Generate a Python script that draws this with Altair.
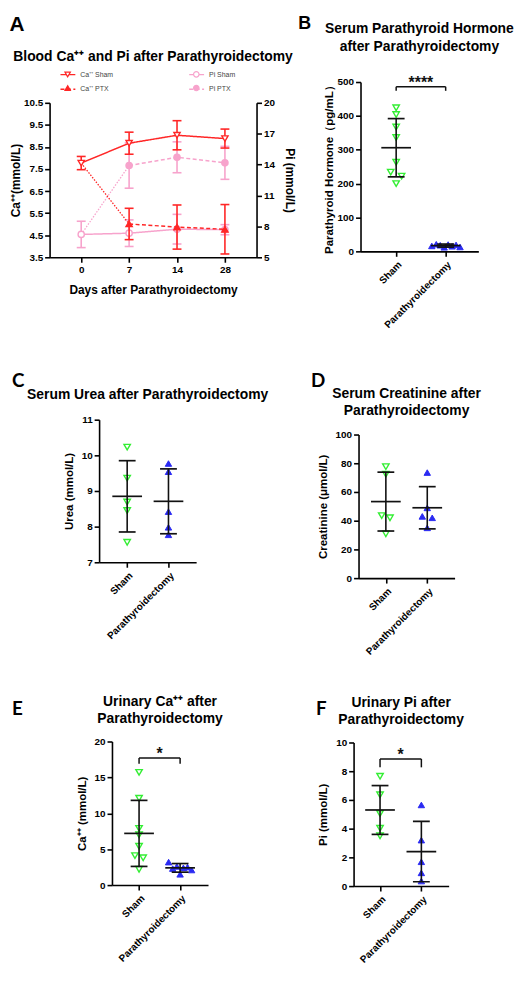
import altair as alt
import pandas as pd

FONT = "Liberation Sans"
RED = "#FF2626"
PINK = "#F7A3CC"
GREEN = "#33EE33"
BLUE = "#2A2AF2"
BLACK = "#111111"

# ---------------- Panel A data (mean, SD) ----------------
days = ["0", "7", "14", "28"]
series_names = ["Ca⁺⁺ Sham", "Ca⁺⁺ PTX", "Pi  Sham", "Pi  PTX"]
ca_sham_mean = [7.77, 8.67, 9.03, 8.88]
ca_sham_sd = [0.30, 0.50, 0.66, 0.43]
ca_ptx_days = ["7", "14", "28"]
ca_ptx_mean = [5.01, 4.87, 4.77]
ca_ptx_sd = [0.71, 1.00, 1.12]
pi_sham_mean = [7.22, 7.34, 7.73, 7.68]
pi_sham_sd = [1.28, 1.29, 1.44, 0.49]
pi_ptx_days = ["7", "14", "28"]
pi_ptx_mean = [13.91, 14.71, 14.17]
pi_ptx_sd = [2.20, 1.50, 1.60]

# ---------------- Panels B-F data ----------------
groups = ["Sham", "Parathyroidectomy"]

pth_sham = [424, 404, 367, 336, 263, 234, 222, 200]
pth_sham_jit = [0, 0, 0, 0, 0, -0.11, 0.11, 0]
pth_ptx = [16, 21, 18, 12, 20, 15, 19, 13]
pth_ptx_jit = [-0.28, -0.19, -0.11, -0.03, 0.05, 0.13, 0.21, 0.29]
pth_mean = [306, 17]
pth_sd = [86, 4.5]

urea_sham = [10.23, 9.36, 8.69, 8.45, 7.56]
urea_sham_jit = [0, 0, 0, 0, 0]
urea_ptx = [9.77, 9.54, 8.42, 7.98, 7.77]
urea_ptx_jit = [0, 0, 0, 0, 0]
urea_mean = [8.85, 8.71]
urea_sd = [1.00, 0.91]

crea_sham = [77.6, 72.4, 43.5, 42.0, 30.9]
crea_sham_jit = [0, 0, -0.1, 0.1, 0]
crea_ptx = [73.5, 48.9, 43.0, 42.0, 35.0]
crea_ptx_jit = [0, 0, -0.12, 0.12, 0]
crea_mean = [53.3, 49.0]
crea_sd = [20.5, 14.7]

uca_sham = [15.7, 12.1, 7.9, 7.0, 5.4, 4.1, 3.8, 2.2]
uca_sham_jit = [0, 0, 0, 0, 0, -0.1, 0.1, 0]
uca_ptx = [3.2, 2.3, 2.6, 1.5, 2.4, 2.5, 2.1]
uca_ptx_jit = [-0.28, -0.18, -0.08, 0, 0.08, 0.18, 0.28]
uca_mean = [7.2, 2.4]
uca_sd = [4.6, 0.6]

upi_sham = [7.65, 6.36, 5.05, 4.03, 3.5]
upi_sham_jit = [0, 0, 0, 0, 0]
upi_ptx = [5.65, 3.2, 1.69, 0.92, 0.35]
upi_ptx_jit = [0, 0, 0, 0, 0]
upi_mean = [5.3, 2.4]
upi_sd = [1.7, 2.1]

DUMMY = pd.DataFrame({"d": [0]})


def axis(**kw):
    base = dict(grid=False, domainColor="black", domainWidth=1.6, tickColor="black",
                tickWidth=1.6, tickSize=5, labelFont=FONT, labelFontSize=10,
                labelFontWeight="bold", labelColor="black", labelPadding=2,
                titleFont=FONT, titleFontSize=12, titleFontWeight="bold",
                titleColor="black")
    base.update(kw)
    return alt.Axis(**base)


def panel_title(lines, offset, lh=17):
    return alt.TitleParams(lines, font=FONT, fontSize=14, fontWeight="bold", color="black",
                           anchor="middle", frame="group", offset=offset, lineHeight=lh)


def letter(txt, dy, offset, size=19, font=FONT):
    return alt.TitleParams(txt, font=font, fontSize=size, fontWeight="bold", color="black",
                           anchor="start", frame="bounds", dx=0, dy=dy, offset=offset)


def frame(left, right):
    # invisible layout guide: fixes how far a panel reaches left / right of its plot area
    return alt.Chart(DUMMY).mark_rect(opacity=0).encode(
        x=alt.value(-left), x2=alt.value(right), y=alt.value(0), y2=alt.value(1))


def spacer(w, h):
    return alt.Chart(DUMMY).mark_rect(opacity=0).encode(
        x=alt.value(0), x2=alt.value(w), y=alt.value(0), y2=alt.value(h)
    ).properties(width=w, height=h)


# ---------------- Panel A ----------------
xA = alt.X("day:O", scale=alt.Scale(type="point", domain=days, padding=0.66),
           axis=axis(title="Days after Parathyroidectomy", labelAngle=0, titlePadding=11,
                     labelPadding=2))

# two overlaid legends: one draws the line samples (with labels), the other the markers
pt_names = [n + " " for n in series_names]
LEG_X, LEG_Y, COLPAD = 10, -37.2, 73
line_leg = alt.Legend(title=None, orient="none", direction="vertical", legendX=LEG_X,
                      legendY=LEG_Y, columns=2, columnPadding=COLPAD, rowPadding=3,
                      symbolSize=225, symbolStrokeWidth=1.4, labelFontSize=7, labelFont=FONT,
                      labelColor="#444444", labelOffset=4, padding=0)
pt_leg = alt.Legend(title=None, orient="none", direction="vertical", legendX=LEG_X,
                    legendY=LEG_Y + 4.76, columns=2, columnPadding=COLPAD + 2.9, rowPadding=3,
                    symbolSize=30, symbolStrokeWidth=1.2, symbolOffset=4.76, labelFontSize=7,
                    labelFont=FONT, labelColor="#444444", labelOpacity=0, labelOffset=8.74,
                    padding=0)

color_enc = alt.Color("series:N", scale=alt.Scale(domain=series_names,
                                                  range=[RED, RED, PINK, PINK]), legend=line_leg)
dash_enc = alt.StrokeDash("series:N", scale=alt.Scale(domain=series_names,
                                                      range=[[1, 0], [4, 2.5], [1, 0], [4, 2.5]]),
                          legend=line_leg)
shape_enc = alt.Shape("pseries:N", scale=alt.Scale(domain=pt_names,
                                                   range=["triangle-down", "triangle-up", "circle", "circle"]),
                      legend=pt_leg)
stroke_enc = alt.Stroke("pseries:N", scale=alt.Scale(domain=pt_names,
                                                     range=[RED, RED, PINK, PINK]), legend=pt_leg)
fill_enc = alt.Fill("pseries:N", scale=alt.Scale(domain=pt_names,
                                                 range=["white", RED, "white", PINK]), legend=pt_leg)


def rows(name, ds, means, sds):
    return [dict(series=name, day=d, mean=m, lo=m - s, hi=m + s) for d, m, s in zip(ds, means, sds)]


def a_group(sham_name, ptx_name, s_days, s_mean, s_sd, p_days, p_mean, p_sd, color, yscale, yaxis):
    df = pd.DataFrame(rows(sham_name, s_days, s_mean, s_sd) + rows(ptx_name, p_days, p_mean, p_sd))
    link = pd.DataFrame({"day": [s_days[0], p_days[0]], "mean": [s_mean[0], p_mean[0]]})

    def Y(f):
        return alt.Y(f, scale=yscale, axis=yaxis)

    base = alt.Chart(df).encode(x=xA)
    layers = [
        alt.Chart(link).mark_line(color=color, strokeWidth=1.3, strokeDash=[1.5, 1.5])
        .encode(x=xA, y=Y("mean:Q")),
        base.mark_line(strokeWidth=1.5).encode(y=Y("mean:Q"), color=color_enc, strokeDash=dash_enc),
    ]
    for nm in (sham_name, ptx_name):
        sub = base.transform_filter(alt.datum.series == nm)
        layers += [
            sub.mark_rule(color=color, strokeWidth=1.6).encode(y=Y("lo:Q"), y2="hi:Q"),
            sub.mark_tick(orient="horizontal", size=9, thickness=1.6, color=color, opacity=1)
            .encode(y=Y("lo:Q")),
            sub.mark_tick(orient="horizontal", size=9, thickness=1.6, color=color, opacity=1)
            .encode(y=Y("hi:Q")),
        ]
    layers.append(base.transform_calculate(pseries="datum.series + ' '")
                  .mark_point(size=40, strokeWidth=1.4, opacity=1)
                  .encode(y=Y("mean:Q"), shape=shape_enc, stroke=stroke_enc, fill=fill_enc))
    return alt.layer(*layers)


pi_group = a_group("Pi  Sham", "Pi  PTX", days, pi_sham_mean, pi_sham_sd, pi_ptx_days,
                   pi_ptx_mean, pi_ptx_sd, PINK,
                   alt.Scale(domain=[5, 20], nice=False, zero=False),
                   axis(title="Pi (mmol/L)", orient="right", values=[5, 8, 11, 14, 17, 20],
                        titlePadding=8))
ca_group = a_group("Ca⁺⁺ Sham", "Ca⁺⁺ PTX", days, ca_sham_mean, ca_sham_sd, ca_ptx_days,
                   ca_ptx_mean, ca_ptx_sd, RED,
                   alt.Scale(domain=[3.5, 10.5], nice=False, zero=False),
                   axis(title="Ca⁺⁺(mmol/L)", orient="left",
                        values=[3.5, 4.5, 5.5, 6.5, 7.5, 8.5, 9.5, 10.5], format=".1f",
                        titlePadding=1))

panelA = alt.layer(pi_group, ca_group, frame(40, 249)).resolve_scale(y="independent").properties(
    width=209, height=156,
    title=panel_title(["Blood Ca⁺⁺ and Pi after Parathyroidectomy"], 2))


# ---------------- Panels B-F ----------------
def dot_panel(s_vals, s_jit, p_vals, p_jit, means, sds, ydom, yvals, ytitle, title_lines,
              toff, width, height, xdom, fr, bracket=None, lh=17, ytp=7):
    sham = pd.DataFrame({"xpos": [0 + j for j in s_jit], "value": s_vals})
    ptx = pd.DataFrame({"xpos": [1 + j for j in p_jit], "value": p_vals})
    summ = pd.DataFrame({"xpos": [0, 1], "mean": means,
                         "lo": [m - s for m, s in zip(means, sds)],
                         "hi": [m + s for m, s in zip(means, sds)]})
    xs = alt.Scale(domain=xdom, nice=False, zero=False)
    ys = alt.Scale(domain=ydom, nice=False, zero=False)
    lab = f"datum.value == 0 ? '{groups[0]}' : '{groups[1]}'"
    xax = axis(title=None, values=[0, 1], labelExpr=lab, labelAngle=315, labelOverlap=False,
               labelFlush=False, labelPadding=3)
    yax = axis(title=ytitle, values=yvals, titleFontSize=11.6, titlePadding=ytp)

    X = lambda f: alt.X(f, scale=xs, axis=xax)
    Y = lambda f: alt.Y(f, scale=ys, axis=yax)

    layers = [
        frame(*fr),
        alt.Chart(sham).mark_point(shape="triangle-down", size=42, strokeWidth=1.4, opacity=1,
                                   stroke=GREEN, fill="white")
        .encode(x=X("xpos:Q"), y=Y("value:Q")),
        alt.Chart(ptx).mark_point(shape="triangle-up", size=42, strokeWidth=1.0, opacity=1,
                                  stroke=BLUE, fill=BLUE)
        .encode(x=X("xpos:Q"), y=Y("value:Q")),
    ]
    sb = alt.Chart(summ)
    layers += [
        sb.mark_rule(color=BLACK, strokeWidth=1.6).encode(x=X("xpos:Q"), y=Y("lo:Q"), y2="hi:Q"),
        sb.mark_tick(orient="horizontal", size=30, thickness=1.7, color=BLACK, opacity=1)
        .encode(x=X("xpos:Q"), y=Y("mean:Q")),
        sb.mark_tick(orient="horizontal", size=17, thickness=1.7, color=BLACK, opacity=1)
        .encode(x=X("xpos:Q"), y=Y("lo:Q")),
        sb.mark_tick(orient="horizontal", size=17, thickness=1.7, color=BLACK, opacity=1)
        .encode(x=X("xpos:Q"), y=Y("hi:Q")),
    ]
    if bracket is not None:
        level, leg, stars = bracket
        br = pd.DataFrame({"x0": [0], "x1": [1], "level": [level], "leg": [leg], "stars": [stars]})
        bc = alt.Chart(br)
        layers += [
            bc.mark_rule(color=BLACK, strokeWidth=1.5).encode(x=X("x0:Q"), x2="x1:Q", y=Y("level:Q")),
            bc.mark_rule(color=BLACK, strokeWidth=1.5).encode(x=X("x0:Q"), y=Y("leg:Q"), y2="level:Q"),
            bc.mark_rule(color=BLACK, strokeWidth=1.5).encode(x=X("x1:Q"), y=Y("leg:Q"), y2="level:Q"),
            bc.transform_calculate(mid="(datum.x0 + datum.x1) / 2")
            .mark_text(font=FONT, fontSize=16, fontWeight="bold", color=BLACK, baseline="bottom", dy=4)
            .encode(x=X("mid:Q"), y=Y("level:Q"), text="stars:N"),
        ]
    return alt.layer(*layers).properties(width=width, height=height,
                                         title=panel_title(title_lines, toff, lh))


panelB = dot_panel(pth_sham, pth_sham_jit, pth_ptx, pth_ptx_jit, pth_mean, pth_sd,
                   [0, 500], [0, 100, 200, 300, 400, 500], "Parathyroid Hormone（pg/mL）",
                   ["Serum Parathyroid Hormone", "after Parathyroidectomy"], 21, 119, 171,
                   [-0.72, 1.66], (63, 119), bracket=(486, 474, "****"), lh=18, ytp=3)
panelC = dot_panel(urea_sham, urea_sham_jit, urea_ptx, urea_ptx_jit, urea_mean, urea_sd,
                   [7, 11], [7, 8, 9, 10, 11], "Urea (mmol/L)",
                   ["Serum Urea after Parathyroidectomy"], 13, 98, 144, [-0.68, 1.67], (88, 170))
panelD = dot_panel(crea_sham, crea_sham_jit, crea_ptx, crea_ptx_jit, crea_mean, crea_sd,
                   [0, 100], [0, 20, 40, 60, 80, 100], "Creatinine (μmol/L)",
                   ["Serum Creatinine after", "Parathyroidectomy"], 12, 97, 145, [-0.66, 1.66],
                   (48, 97))
panelE = dot_panel(uca_sham, uca_sham_jit, uca_ptx, uca_ptx_jit, uca_mean, uca_sd,
                   [0, 20], [0, 5, 10, 15, 20], "Ca⁺⁺ (mmol/L)",
                   ["Urinary Ca⁺⁺ after", "Parathyroidectomy"], 11, 97, 145, [-0.66, 1.68],
                   (101, 115), bracket=(17.7, 16.9, "*"))
panelF = dot_panel(upi_sham, upi_sham_jit, upi_ptx, upi_ptx_jit, upi_mean, upi_sd,
                   [0, 10], [0, 2, 4, 6, 8, 10], "Pi (mmol/L)",
                   ["Urinary Pi after", "Parathyroidectomy"], 11, 96, 145, [-0.64, 1.66],
                   (38, 96), bracket=(8.85, 8.27, "*"))

legend_indep = dict(color="independent", strokeDash="independent", shape="independent",
                    stroke="independent", fill="independent")

wA = alt.hconcat(panelA, title=letter("A", 0, 15, size=21)).resolve_legend(**legend_indep)
wB = alt.hconcat(panelB, title=letter("B", 11, 0, size=18))
wC = alt.hconcat(panelC, title=letter("C", 3, 0, font="Lato"))
wD = alt.hconcat(panelD, title=letter("D", 4, 0, font="Lato"))
wE = alt.hconcat(panelE, title=letter("E", 24, 0, font="Lato"))
wF = alt.hconcat(panelF, title=letter("F", 23, 0, font="Lato"))


def cell(h, w):
    return alt.vconcat(spacer(1, h), w, spacing=0)


row1 = alt.hconcat(spacer(1, 352), alt.hconcat(cell(0.1, wA), cell(2, wB), spacing=2), spacing=0)
row2 = alt.hconcat(spacer(4, 320), alt.hconcat(cell(11, wC), cell(11, wD), spacing=43), spacing=0)
row3 = alt.hconcat(spacer(4, 1), alt.hconcat(cell(17, wE), cell(18, wF), spacing=91), spacing=0)

chart = alt.vconcat(row1, row2, row3, spacing=0).properties(
    padding=0
).configure_view(stroke=None)

chart.save("out.html", embed_options={"renderer": "svg", "actions": False})
